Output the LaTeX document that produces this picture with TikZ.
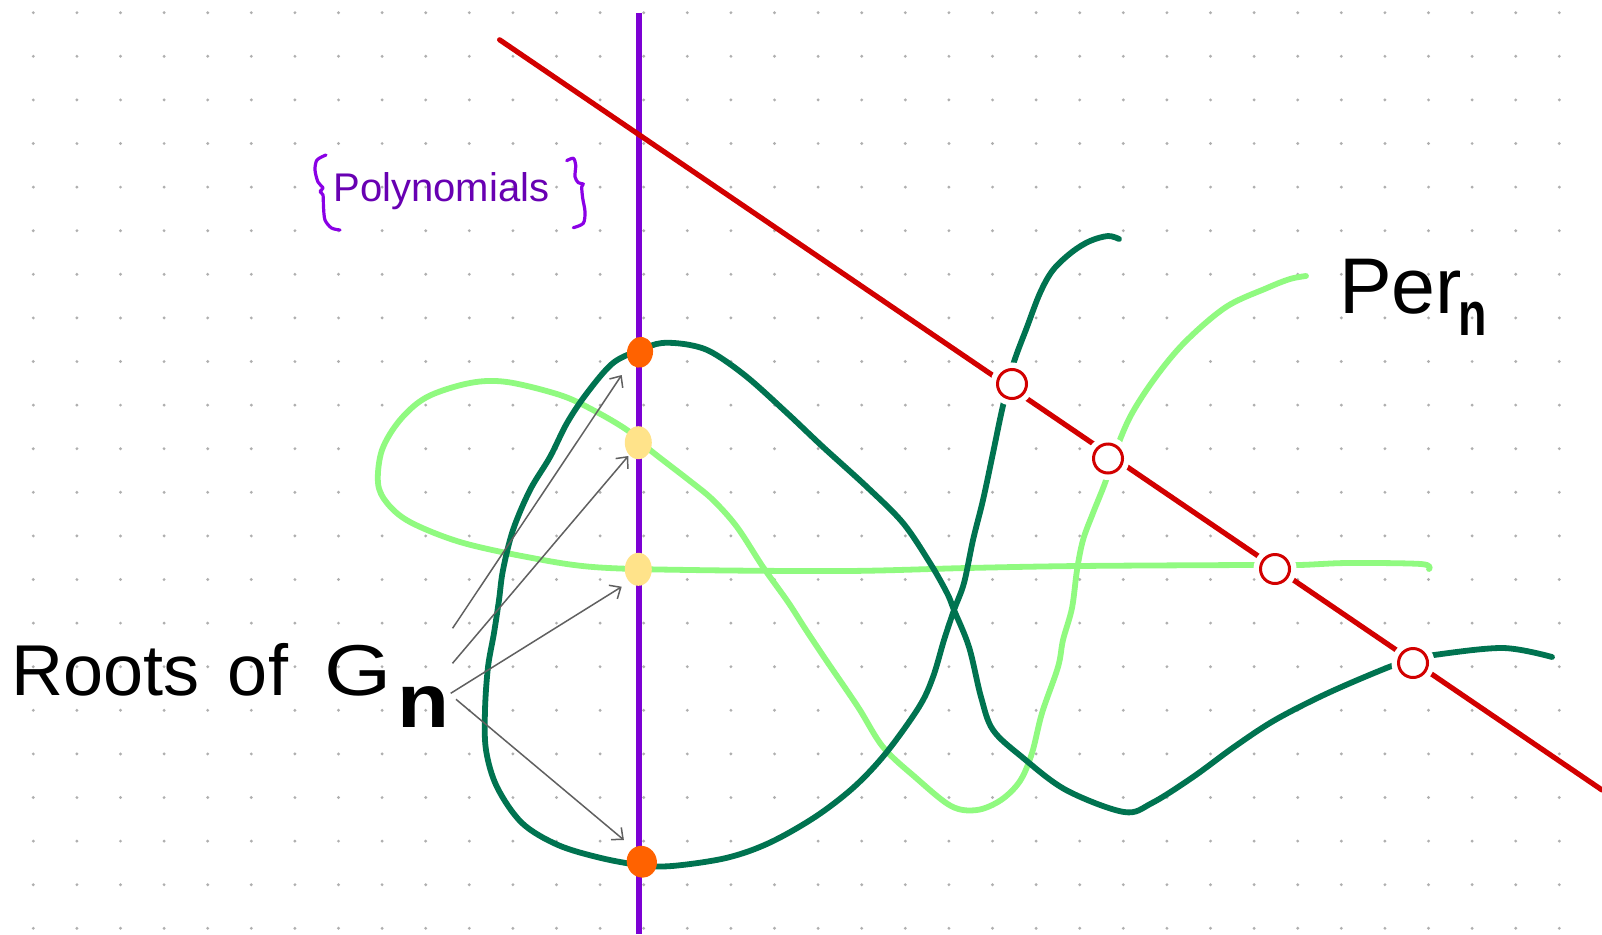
\documentclass[tikz,border=0pt]{standalone}
\usepackage{fontspec}
\setmainfont{Liberation Sans}
\usepackage{graphicx}
\usetikzlibrary{arrows.meta,shapes.geometric}
\definecolor{gridgray}{RGB}{175,175,175}
\definecolor{axispurple}{RGB}{124,0,212}
\definecolor{bracepurple}{RGB}{138,0,230}
\definecolor{textpurple}{RGB}{104,0,178}
\definecolor{darkgreen}{RGB}{0,115,80}
\definecolor{lightgreen}{RGB}{144,250,128}
\definecolor{perred}{RGB}{210,0,0}
\definecolor{rootorange}{RGB}{255,98,0}
\definecolor{rootyellow}{RGB}{255,227,138}
\definecolor{arrowgray}{RGB}{96,96,96}
\tikzset{
  curvedark/.style={draw=darkgreen, line width=5.8pt, line cap=round, line join=round},
  curvelight/.style={draw=lightgreen, line width=5.8pt, line cap=round, line join=round},
  perline/.style={draw=perred, line width=5.2pt, line cap=round},
  axisline/.style={draw=axispurple, line width=5.5pt},
  bracestroke/.style={draw=bracepurple, line width=3.2pt, line cap=round, line join=round},
  pering/.style={circle, minimum size=29pt, inner sep=0pt, fill=white, draw=perred, line width=3pt,
     preaction={draw=white, line width=14pt}},
  blob/.style={ellipse, inner sep=0pt, draw=none},
  rootarrow/.style={draw=arrowgray, line width=1.5pt, -{Straight Barb[length=9pt,width=16pt,line width=1.5pt]}},
  lbl/.style={anchor=base west, inner sep=0pt}
}
\begin{document}
\begin{tikzpicture}[x=1pt,y=-1pt]
\useasboundingbox (0,0) rectangle (1602,934);
\fill[white] (0,0) rectangle (1602,934);
% dot grid
\foreach \i in {0,...,35}{
  \foreach \j in {0,...,21}{
    \fill[gridgray] (33.3+43.6*\i, 12.7+43.6*\j) circle[radius=1.6pt];
  }
}
% light green curve
\draw[curvelight] plot[smooth, tension=0.55] coordinates {
 (1306,276) (1290,279) (1267,288) (1226,307) (1185,342) (1155,378) (1130,417) (1113,458)
 (1105,483) (1093,513) (1083,540) (1077,570) (1072,608) (1063,640) (1058,667) (1042,713)
 (1032,753) (1020,781) (1001,800) (977,810) (951,806) (915,777) (883,747) (858,707)
 (826,660) (806,630) (788,602) (763,567) (737,527) (713,500) (690,481) (650,450)
 (627,430) (593,410) (560,395) (507,382) (470,383) (427,397) (400,420) (382,450)
 (378,483) (387,503) (410,522) (460,542) (527,557) (593,567) (690,570) (847,571)
 (967,568) (1079,566) (1250,565) (1299,565) (1348,563) (1421,564) (1429,569)};
% dark green curve
\draw[curvedark] plot[smooth, tension=0.55] coordinates {
 (1119,239) (1108,236) (1090,241) (1072,252) (1053,270) (1040,293) (1027,327) (1013,365)
 (1002,410) (993,453) (983,500) (973,540) (964,583) (954,610) (944,640) (933,677)
 (919,707) (886,753) (854,787) (815,817) (769,843) (726,858) (672,866) (640,865)
 (601,858) (558,845) (522,823) (497,787) (486,750) (485,710) (488,667) (494,633)
 (499,600) (503,570) (513,530) (530,490) (550,457) (567,423) (587,393) (613,363)
 (640,350) (662,343) (690,345) (713,353) (747,377) (787,413) (823,447) (867,487)
 (903,523) (930,563) (947,593) (954,610) (969,647) (981,697) (993,730) (1022,757)
 (1066,790) (1124,812) (1152,803) (1193,777) (1234,747) (1275,720) (1328,693) (1389,667)
 (1413,660) (1434,655) (1503,648) (1552,657)};
% vertical axis of polynomials
\coordinate (axtop) at (639,13);
\coordinate (axbot) at (639,934);
\draw[axisline] (axtop) -- (axbot);
% Per_n line
\coordinate (pstart) at (499.6,39.8);
\coordinate (pend) at (1602,790);
\draw[perline] (pstart) -- (pend);
% intersection rings
\node[pering] (c1) at (1012,384) {};
\node[pering] (c2) at (1108,458.5) {};
\node[pering] (c3) at (1275,569) {};
\node[pering] (c4) at (1413,663) {};
% roots on the axis
\node[blob, fill=rootorange, minimum width=26pt, minimum height=31pt, rotate=-10] (r1) at (640,352.3) {};
\node[blob, fill=rootyellow, minimum width=27pt, minimum height=33pt] (r2) at (638.3,442.7) {};
\node[blob, fill=rootyellow, minimum width=27pt, minimum height=33pt] (r3) at (638.3,569.3) {};
\node[blob, fill=rootorange, minimum width=30pt, minimum height=32pt, rotate=20] (r4) at (641.8,861.7) {};
% labels
\node[lbl, text=textpurple, font=\fontsize{40}{46}\selectfont] (poly) at (333.5,201.7) {Polynomials};
\node[lbl, font=\fontsize{79}{90}\selectfont] (per) at (1339,313.3)
  {Per\hspace{-4pt}\raisebox{-21.7pt}{\fontsize{62}{66}\selectfont\bfseries\scalebox{0.75}[1]{n}}};
\node[lbl, font=\fontsize{72}{86}\selectfont] (roots) at (11,695)
  {Roots\hspace{0.4em}of\hspace{0.5em}\scalebox{1.2}[1]{G}\hspace{6pt}\raisebox{-32pt}{\fontsize{76}{80}\selectfont\bfseries\scalebox{1.12}[1]{n}}};
% braces around Polynomials
\draw[bracestroke] plot[smooth, tension=0.5] coordinates {
 (326,155) (317,160) (315,170) (318,182) (323,188) (320,191.5) (323,195) (323.5,207) (325,220) (331.5,228) (340,230)};
\draw[bracestroke] plot[smooth, tension=0.5] coordinates {
 (566.7,160.7) (573.3,158.3) (575.7,165) (575,176.7) (578.3,182.7) (583.3,184) (581.7,187) (582.7,198.3) (585,211.7) (583.3,223.3) (573.3,227.7)};
% arrows from the label to the roots
\coordinate (a1s) at (452.6,628.3);
\coordinate (a1e) at (621.7,375);
\coordinate (a2s) at (452.5,663.3);
\coordinate (a2e) at (628.3,456);
\coordinate (a3s) at (450.7,693.3);
\coordinate (a3e) at (621.7,586.7);
\coordinate (a4s) at (456,699.3);
\coordinate (a4e) at (623.9,840);
\draw[rootarrow] (a1s) -- (a1e);
\draw[rootarrow] (a2s) -- (a2e);
\draw[rootarrow] (a3s) -- (a3e);
\draw[rootarrow] (a4s) -- (a4e);
\end{tikzpicture}
\end{document}
